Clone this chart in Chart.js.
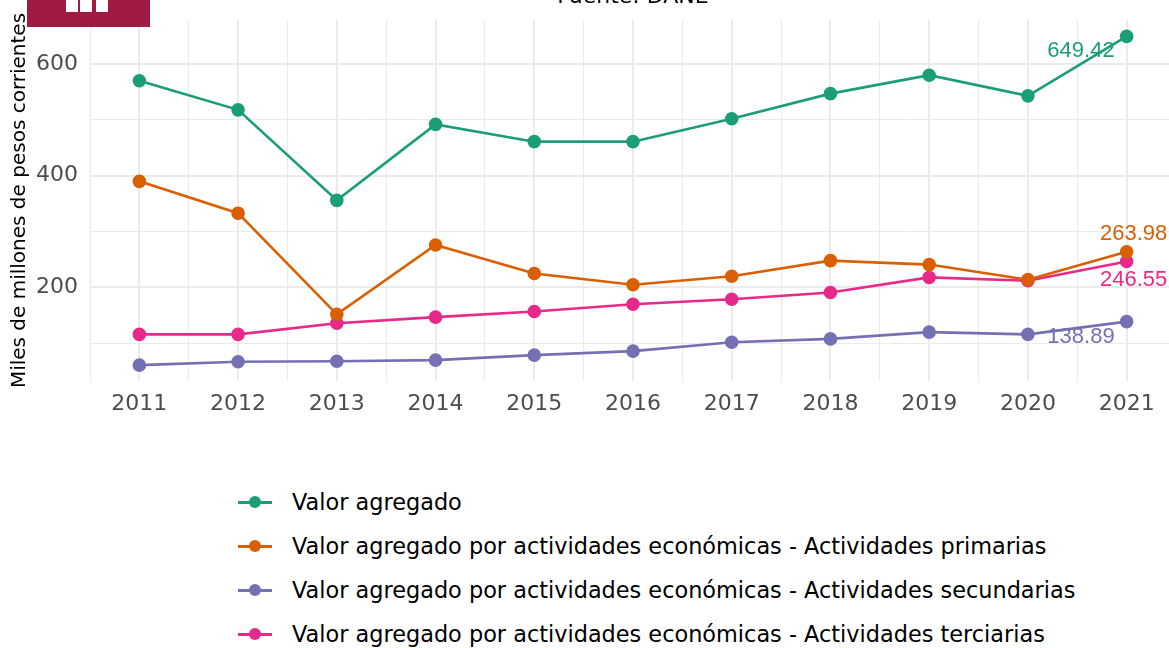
<!DOCTYPE html>
<html>
<head>
<meta charset="utf-8">
<script src="https://cdn.jsdelivr.net/npm/chart.js@4"></script>
<style>
  html, body { margin: 0; padding: 0; background: #fff; width: 1169px; height: 648px; overflow: hidden; position: relative; font-family: "DejaVu Sans", sans-serif; }
  #wrap { position: absolute; left: 0; top: 0; width: 1186px; height: 430px; }
  #source { position: absolute; top: -17px; left: 0; width: 1266px; text-align: center; font-size: 22px; color: #000; }
  #logo { position: absolute; left: 27px; top: 0; width: 123px; height: 27px; background: #A11A44; }
  #logo span { position: absolute; top: 0; width: 12px; height: 12px; background: #fff; }
  #legend { position: absolute; left: 238px; top: 480px; }
  .item { height: 44px; display: flex; align-items: center; font-size: 22.4px; color: #000; }
  .sym { position: relative; width: 34px; height: 12px; margin-right: 20px; }
  .sym .ln { position: absolute; left: 0; right: 0; top: 5px; height: 2.5px; }
  .sym .dt { position: absolute; left: 11px; top: 0; width: 12px; height: 12px; border-radius: 50%; }
</style>
</head>
<body>
<div id="wrap"><canvas id="chart" width="1186" height="430"></canvas></div>
<div id="source">Fuente: DANE</div>
<div id="logo"><span style="left:39px"></span><span style="left:53px"></span><span style="left:69px"></span></div>
<div id="legend"></div>
<script>
const years = [2011, 2012, 2013, 2014, 2015, 2016, 2017, 2018, 2019, 2020, 2021];
const valorAgregado = [570, 518, 356, 492, 461, 461, 502, 547, 580, 543, 649.42];
const primarias = [390, 333, 152, 276, 225, 205, 220, 248, 241, 214, 263.98];
const secundarias = [61, 67, 68, 70, 79, 86, 102, 108, 120, 116, 138.89];
const terciarias = [116, 116, 136, 147, 157, 170, 179, 191, 218, 212, 246.55];
const seriesNames = [
  'Valor agregado',
  'Valor agregado por actividades económicas - Actividades primarias',
  'Valor agregado por actividades económicas - Actividades secundarias',
  'Valor agregado por actividades económicas - Actividades terciarias',
];
const seriesColors = ['#1B9E77', '#D95F02', '#7570B3', '#E7298A'];
const yTicks = [100, 200, 300, 400, 500, 600];

// label offsets for last-value annotations (px from the last point)
const endLabels = [
  { dx: -12, dy: 15, align: 'right' },
  { dx: 7, dy: -18, align: 'center' },
  { dx: -12, dy: 15, align: 'right' },
  { dx: 7, dy: 18, align: 'center' },
];

const allSeries = [valorAgregado, primarias, secundarias, terciarias];

const endLabelPlugin = {
  id: 'endLabels',
  afterDatasetsDraw(chart) {
    const { ctx, scales } = chart;
    ctx.save();
    ctx.font = '22px "Liberation Sans", Arial, sans-serif';
    ctx.textBaseline = 'middle';
    allSeries.forEach((s, i) => {
      const last = s.length - 1;
      const x = scales.x.getPixelForValue(years[last]);
      const y = scales.y.getPixelForValue(s[last]);
      ctx.fillStyle = seriesColors[i];
      ctx.textAlign = endLabels[i].align;
      ctx.fillText(s[last].toFixed(2), x + endLabels[i].dx, y + endLabels[i].dy);
    });
    ctx.restore();
  },
};

const isMajor = (v) => Number.isInteger(v);

new Chart(document.getElementById('chart'), {
  type: 'line',
  data: {
    datasets: allSeries.map((s, i) => ({
      label: seriesNames[i],
      data: s.map((v, j) => ({ x: years[j], y: v })),
      borderColor: seriesColors[i],
      backgroundColor: seriesColors[i],
      borderWidth: 2.6,
      pointRadius: 5.5,
      pointHoverRadius: 5.5,
      tension: 0,
    })),
  },
  options: {
    responsive: false,
    animation: false,
    layout: { padding: { top: 20, left: 0, right: 0, bottom: 0 } },
    plugins: { legend: { display: false }, tooltip: { enabled: false } },
    scales: {
      x: {
        type: 'linear',
        min: 2010.5,
        max: 2021.5,
        afterBuildTicks: (s) => { s.ticks = []; for (let v = 2010.5; v <= 2021.5; v += 0.5) s.ticks.push({ value: v }); },
        afterFit: (s) => { s.height = 49; },
        border: { display: false },
        grid: {
          drawTicks: false,
          color: '#EBEBEB',
          lineWidth: (c) => (isMajor(c.tick.value) ? 2 : 1),
        },
        ticks: {
          padding: 10,
          autoSkip: false,
          maxRotation: 0,
          color: '#4D4D4D',
          font: { family: 'DejaVu Sans', size: 22 },
          callback: (v) => (isMajor(v) ? String(v) : ''),
        },
      },
      y: {
        min: 32.6,
        max: 678.8,
        afterBuildTicks: (s) => { s.ticks = yTicks.map((v) => ({ value: v })); },
        afterFit: (s) => { s.width = 90; s.paddingTop = 0; s.paddingBottom = 0; },
        border: { display: false },
        grid: {
          drawTicks: false,
          color: '#EBEBEB',
          lineWidth: (c) => (c.tick.value % 200 === 0 ? 2 : 1),
        },
        ticks: {
          padding: 12,
          color: '#4D4D4D',
          font: { family: 'DejaVu Sans', size: 22 },
          callback: (v) => (v % 200 === 0 ? String(v) : ''),
        },
        title: {
          display: true,
          text: 'Miles de millones de pesos corrientes',
          color: '#000',
          font: { family: 'DejaVu Sans', size: 20 },
          padding: { top: 8, bottom: 0 },
        },
      },
    },
  },
  plugins: [endLabelPlugin],
});

const legend = document.getElementById('legend');
seriesNames.forEach((name, i) => {
  const row = document.createElement('div');
  row.className = 'item';
  row.innerHTML = `<div class="sym"><div class="ln" style="background:${seriesColors[i]}"></div><div class="dt" style="background:${seriesColors[i]}"></div></div><span>${name}</span>`;
  legend.appendChild(row);
});
</script>
</body>
</html>
